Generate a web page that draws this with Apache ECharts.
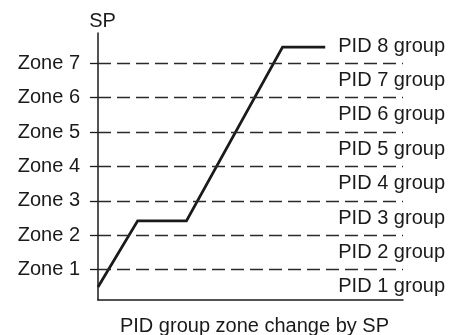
<!DOCTYPE html>
<html>
<head>
<meta charset="utf-8">
<script src="https://cdn.jsdelivr.net/npm/echarts@6/dist/echarts.min.js"></script>
<style>
  html, body { margin: 0; padding: 0; background: #fff; }
  #chart { width: 458px; height: 335px; }
</style>
</head>
<body>
<div id="chart"></div>
<script>
// SP trajectory (x: time-like progress, y: SP level in zone units)
const spX = [0, 13, 29, 60.5, 74.5];
const spY = [0.5, 2.42, 2.42, 7.47, 7.47];

// Zone boundaries on the SP axis and their labels
const zoneLevels = [1, 2, 3, 4, 5, 6, 7];
const zoneLabels = ['Zone 1', 'Zone 2', 'Zone 3', 'Zone 4', 'Zone 5', 'Zone 6', 'Zone 7'];

// PID group bands sit between the zone boundaries
const groupLevels = [0.5, 1.5, 2.5, 3.5, 4.5, 5.5, 6.5, 7.5];
const groupLabels = ['PID 1 group', 'PID 2 group', 'PID 3 group', 'PID 4 group',
                     'PID 5 group', 'PID 6 group', 'PID 7 group', 'PID 8 group'];

const FONT = '"Liberation Sans", Arial, Helvetica, sans-serif';
const INK = '#1a1a1a';

const chart = echarts.init(document.getElementById('chart'));
chart.setOption({
  animation: false,
  backgroundColor: '#fff',
  grid: { left: 98, right: 55, top: 33, bottom: 35, outerBoundsMode: 'none', containLabel: false },
  xAxis: {
    type: 'value',
    min: 0,
    max: 100,
    name: 'PID group zone change by SP',
    nameLocation: 'middle',
    nameGap: 16,
    nameTextStyle: { fontFamily: FONT, fontSize: 20, color: INK, padding: [0, 0, 0, 8] },
    axisLine: { show: true, lineStyle: { color: INK, width: 1.5 } },
    axisTick: { show: false },
    axisLabel: { show: false },
    splitLine: { show: false }
  },
  yAxis: [
    {
      type: 'value',
      min: 0.12,
      max: 7.88,
      name: 'SP',
      nameLocation: 'end',
      nameGap: 2,
      nameTextStyle: { fontFamily: FONT, fontSize: 20, color: INK, padding: [0, 0, 0, 9] },
      axisLine: { show: true, lineStyle: { color: INK, width: 1.5 } },
      axisTick: { show: true, length: 8, customValues: zoneLevels, lineStyle: { color: INK, width: 1.3 } },
      axisLabel: {
        customValues: zoneLevels,
        margin: 18,
        fontFamily: FONT,
        fontSize: 20,
        color: INK,
        formatter: v => zoneLabels[zoneLevels.indexOf(Math.round(v))]
      },
      splitLine: { show: false }
    },
    {
      type: 'value',
      position: 'right',
      min: 0.12,
      max: 7.88,
      axisLine: { show: false },
      axisTick: { show: false },
      axisLabel: {
        customValues: groupLevels,
        margin: 42,
        align: 'right',
        fontFamily: FONT,
        fontSize: 20,
        color: INK,
        formatter: v => groupLabels[groupLevels.indexOf(Math.round(v * 2) / 2)]
      },
      splitLine: { show: false }
    }
  ],
  series: [
    {
      type: 'line',
      data: spX.map((x, i) => [x, spY[i]]),
      symbol: 'none',
      lineStyle: { color: INK, width: 2.8, join: 'miter' },
      markLine: {
        silent: true,
        symbol: ['none', 'none'],
        label: { show: false },
        lineStyle: { color: '#2a2a2a', width: 1.4, type: [13, 6] },
        data: zoneLevels.map(v => ({ yAxis: v }))
      }
    }
  ]
});
</script>
</body>
</html>
